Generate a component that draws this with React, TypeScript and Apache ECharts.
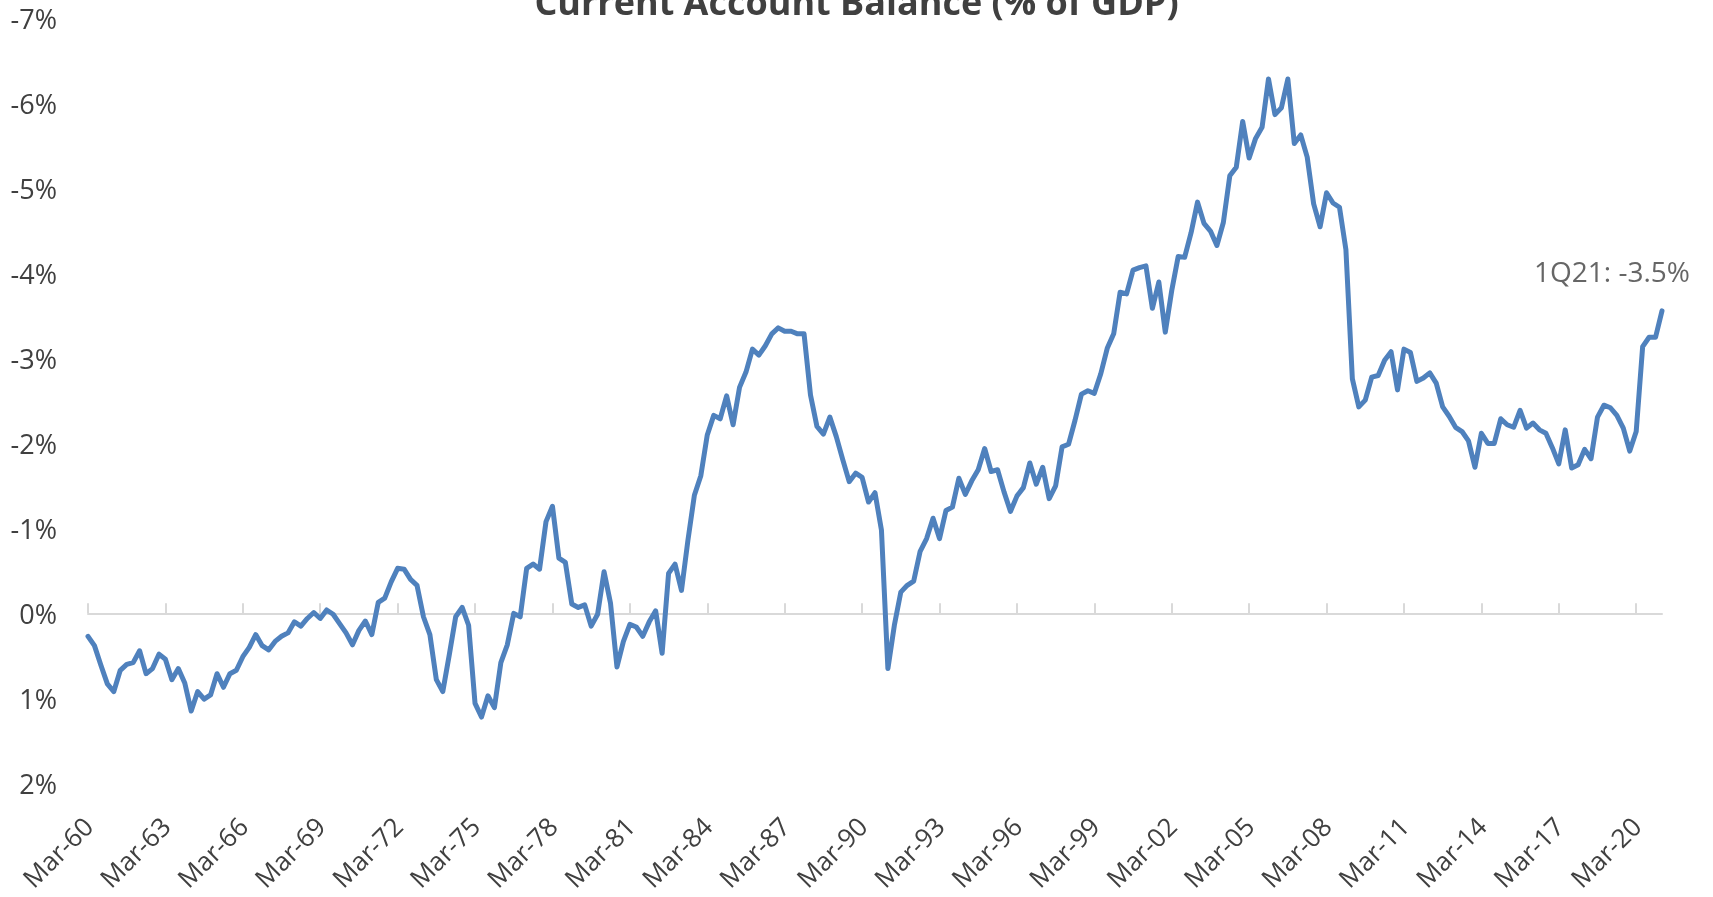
import React, { useEffect, useRef } from "react";
import * as echarts from "echarts";

// Current account balance, % of GDP, quarterly from Mar-60 to Mar-21
const cab1960s = [
  0.27, 0.38, 0.61, 0.83, 0.92, 0.67, 0.6, 0.58, 0.44, 0.71, 0.65, 0.48,
  0.54, 0.78, 0.65, 0.82, 1.15, 0.92, 1.01, 0.96, 0.71, 0.87, 0.71, 0.67,
  0.51, 0.4, 0.25, 0.38, 0.43, 0.33, 0.27, 0.23, 0.1, 0.15, 0.06, -0.01,
  0.06, -0.04, 0.01, 0.12,
];
const cab1970s = [
  0.23, 0.37, 0.2, 0.09, 0.25, -0.13, -0.18, -0.37, -0.53, -0.52, -0.4, -0.33,
  0.04, 0.25, 0.78, 0.92, 0.49, 0.04, -0.07, 0.14, 1.06, 1.22, 0.97, 1.11,
  0.58, 0.37, 0.0, 0.04, -0.53, -0.58, -0.52, -1.08, -1.26, -0.65, -0.6, -0.11,
  -0.07, -0.1, 0.15, 0.01,
];
const cab1980s = [
  -0.49, -0.12, 0.63, 0.33, 0.13, 0.16, 0.27, 0.1, -0.03, 0.47, -0.47, -0.58,
  -0.27, -0.86, -1.39, -1.62, -2.1, -2.33, -2.29, -2.56, -2.22, -2.66, -2.84, -3.11,
  -3.04, -3.15, -3.29, -3.36, -3.32, -3.32, -3.29, -3.29, -2.57, -2.2, -2.11, -2.31,
  -2.08, -1.81, -1.55, -1.65,
];
const cab1990s = [
  -1.6, -1.31, -1.42, -0.98, 0.65, 0.14, -0.25, -0.33, -0.38, -0.73, -0.88, -1.12,
  -0.88, -1.21, -1.25, -1.59, -1.4, -1.56, -1.69, -1.94, -1.67, -1.69, -1.43, -1.2,
  -1.38, -1.48, -1.77, -1.52, -1.72, -1.35, -1.5, -1.96, -1.99, -2.27, -2.58, -2.62,
  -2.59, -2.82, -3.12, -3.29,
];
const cab2000s = [
  -3.78, -3.76, -4.04, -4.07, -4.09, -3.59, -3.9, -3.31, -3.8, -4.2, -4.19, -4.48,
  -4.84, -4.59, -4.5, -4.33, -4.6, -5.15, -5.25, -5.79, -5.36, -5.59, -5.72, -6.29,
  -5.87, -5.95, -6.29, -5.53, -5.63, -5.37, -4.82, -4.55, -4.95, -4.83, -4.78, -4.28,
  -2.76, -2.43, -2.51, -2.78,
];
const cab2010s = [
  -2.8, -2.98, -3.08, -2.63, -3.11, -3.07, -2.73, -2.77, -2.83, -2.71, -2.43, -2.32,
  -2.19, -2.14, -2.03, -1.72, -2.12, -2.0, -2.0, -2.29, -2.22, -2.19, -2.39, -2.18,
  -2.24, -2.16, -2.12, -1.95, -1.76, -2.16, -1.71, -1.75, -1.93, -1.82, -2.31, -2.45,
  -2.42, -2.33, -2.18, -1.91,
];
const cab2020s = [-2.14, -3.14, -3.25, -3.25, -3.56];

const quarterMonths = ["Mar", "Jun", "Sep", "Dec"];
const startYear = 1960;
const yTicks = { min: -7, max: 2, step: 1 };
const titleText = "Current Account Balance (% of GDP)";
const lastPointLabel = "1Q21: -3.5%";

const values = [
  ...cab1960s,
  ...cab1970s,
  ...cab1980s,
  ...cab1990s,
  ...cab2000s,
  ...cab2010s,
  ...cab2020s,
];
const categories = values.map((_, i) => {
  const yr = (startYear + Math.floor(i / 4)) % 100;
  return `${quarterMonths[i % 4]}-${String(yr).padStart(2, "0")}`;
});

const FONT = "Open Sans";
const TEXT = "#404040";

export default function App() {
  const ref = useRef<HTMLDivElement>(null);
  useEffect(() => {
    if (!ref.current) return;
    const chart = echarts.init(ref.current, null, { renderer: "svg" });
    const lastIdx = values.length - 1;
    chart.setOption({
      animation: false,
      title: {
        text: titleText,
        left: "center",
        top: -22,
        textStyle: {
          fontFamily: FONT,
          fontWeight: "bold",
          fontSize: 36,
          color: TEXT,
        },
      },
      grid: { left: 88, right: 51, top: 18.6, bottom: 113.7 },
      xAxis: [
        {
          type: "category",
          data: categories,
          boundaryGap: false,
          position: "bottom",
          axisLine: {
            show: true,
            onZero: true,
            lineStyle: { color: "#D9D9D9", width: 2 },
          },
          axisTick: {
            show: true,
            inside: true,
            length: 10,
            interval: 11,
            lineStyle: { color: "#D9D9D9", width: 2 },
          },
          axisLabel: { show: false },
          splitLine: { show: false },
        },
        {
          type: "category",
          data: categories,
          boundaryGap: false,
          position: "bottom",
          axisLine: { show: false, onZero: false },
          axisTick: { show: false },
          axisLabel: {
            show: true,
            interval: 11,
            rotate: 45,
            margin: 38,
            fontFamily: FONT,
            fontSize: 26,
            color: TEXT,
          },
          splitLine: { show: false },
        },
      ],
      yAxis: {
        type: "value",
        inverse: true,
        min: yTicks.min,
        max: yTicks.max,
        interval: yTicks.step,
        axisLine: { show: false },
        axisTick: { show: false },
        splitLine: { show: false },
        axisLabel: {
          margin: 31,
          fontFamily: FONT,
          fontSize: 27,
          color: TEXT,
          formatter: (v: number) => `${v}%`,
        },
      },
      series: [
        {
          type: "line",
          xAxisIndex: 0,
          data: values,
          symbol: "none",
          showSymbol: false,
          lineStyle: { color: "#4F81BD", width: 5, join: "round", cap: "round" },
          itemStyle: { color: "#4F81BD" },
          clip: false,
          silent: true,
        },
        {
          type: "scatter",
          xAxisIndex: 0,
          data: [[lastIdx, values[lastIdx]]],
          symbolSize: 2,
          itemStyle: { color: "rgba(0,0,0,0)" },
          silent: true,
          label: {
            show: true,
            formatter: lastPointLabel,
            position: "top",
            offset: [-50, -20],
            fontFamily: FONT,
            fontSize: 28,
            color: TEXT,
          },
        },
      ],
    });
    return () => chart.dispose();
  }, []);
  return (
    <div
      ref={ref}
      style={{ position: "fixed", left: 0, top: 0, width: 1713, height: 897 }}
    />
  );
}
